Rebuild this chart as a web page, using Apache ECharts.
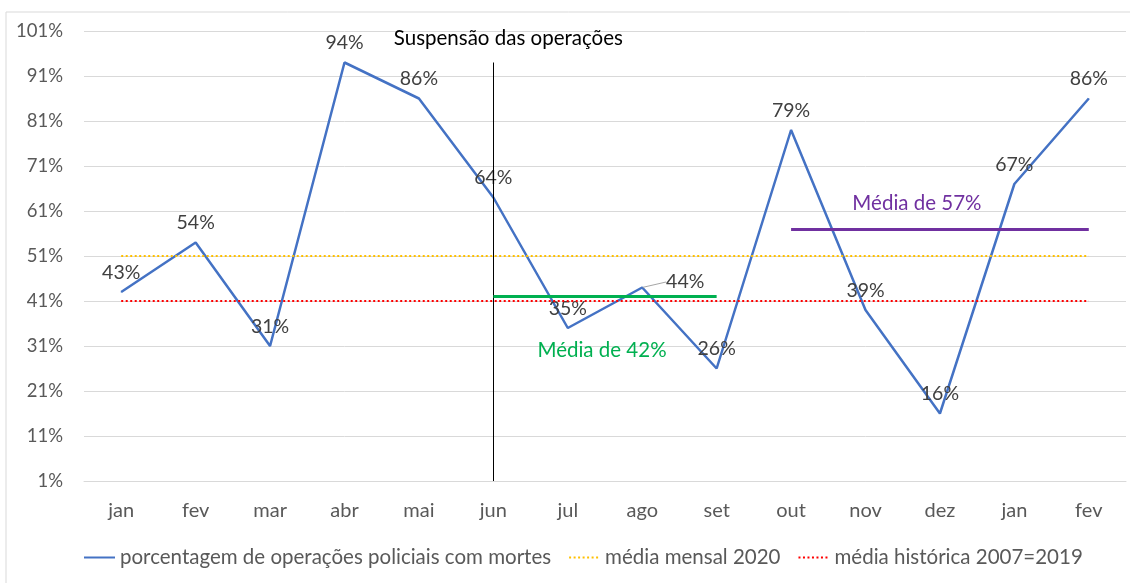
<!DOCTYPE html>
<html>
<head>
<meta charset="utf-8">
<script src="https://cdn.jsdelivr.net/npm/echarts@6/dist/echarts.min.js"></script>
<style>
  html, body { margin: 0; padding: 0; background: #fff; }
  #main { width: 1130px; height: 583px; }
</style>
</head>
<body>
<div id="main"></div>
<script>
  // meses
  var months = ['jan', 'fev', 'mar', 'abr', 'mai', 'jun', 'jul', 'ago', 'set', 'out', 'nov', 'dez', 'jan', 'fev']
  // porcentagem de operações policiais com mortes
  var pctMortes = [43, 54, 31, 94, 86, 64, 35, 44, 26, 79, 39, 16, 67, 86]
  var mediaMensal2020 = 51
  var mediaHistorica = 41
  var mediaAntes = 42   // jun a set
  var mediaDepois = 57  // out a fev
  var suspensaoIdx = 5  // jun
  var suspensaoTopo = 94

  var font = 'Lato, "Open Sans", sans-serif'
  var myChart = echarts.init(document.getElementById('main'))

  var option = {
    backgroundColor: '#fff',
    textStyle: { fontFamily: font },
    animation: false,
    graphic: [{
      type: 'rect',
      shape: { x: 6, y: 12, width: 1140, height: 600 },
      style: { fill: 'none', stroke: '#D9D9D9', lineWidth: 1 }
    }],
    grid: { left: 84, right: 4, top: 31, bottom: 102 },
    legend: {
      bottom: 10,
      left: 78,
      itemWidth: 31,
      itemHeight: 10,
      itemGap: 17,
      itemStyle: { opacity: 0 },
      textStyle: { fontSize: 20.5, color: '#595959', fontFamily: font },
      data: ['porcentagem de operações policiais com mortes', 'média mensal 2020', 'média histórica 2007=2019']
    },
    xAxis: {
      type: 'category',
      data: months,
      boundaryGap: true,
      axisLine: { lineStyle: { color: '#D9D9D9' } },
      axisTick: { show: false },
      axisLabel: { fontSize: 20, color: '#595959', margin: 20 }
    },
    yAxis: {
      type: 'value',
      min: 1,
      max: 101,
      interval: 10,
      axisLine: { show: false },
      axisTick: { show: false },
      axisLabel: { fontSize: 18.5, color: '#595959', margin: 21, formatter: '{value}%' },
      splitLine: { lineStyle: { color: '#D9D9D9' } }
    },
    series: [
      {
        name: 'porcentagem de operações policiais com mortes',
        type: 'line',
        z: 3,
        symbol: 'circle',
        symbolSize: 1,
        showSymbol: true,
        lineStyle: { color: '#4472C4', width: 2.5 },
        itemStyle: { color: '#4472C4' },
        data: pctMortes.map(function (v, i) {
          return i === 7 ? { value: v, labelLine: { show: true } } : v
        }),
        label: {
          show: true,
          position: 'top',
          distance: 9,
          fontSize: 19.5,
          color: '#404040',
          formatter: '{c}%'
        },
        labelLine: { show: false, lineStyle: { color: '#A6A6A6', width: 1 } },
        labelLayout: function (p) {
          if (p.dataIndex === 7) return { dx: 43, dy: 14 }
          return {}
        },
        markLine: {
          silent: true,
          symbol: 'none',
          data: [
            [
              { coord: [suspensaoIdx, 1], lineStyle: { color: '#000', width: 1, type: 'solid' } },
              {
                coord: [suspensaoIdx, suspensaoTopo],
                label: {
                  show: true, position: 'end', distance: 14, offset: [15, 0],
                  formatter: 'Suspensão das operações', fontSize: 20.5, color: '#000', fontFamily: font
                }
              }
            ],
            [
              { coord: [5, mediaAntes], lineStyle: { color: '#00B050', width: 3, type: 'solid' } },
              {
                coord: [8, mediaAntes],
                label: {
                  show: true, position: 'insideMiddleBottom', distance: 43, offset: [-3, 0],
                  formatter: 'Média de ' + mediaAntes + '%', fontSize: 20.5, color: '#00B050', fontFamily: font
                }
              }
            ],
            [
              { coord: [9, mediaDepois], lineStyle: { color: '#7030A0', width: 3, type: 'solid' } },
              {
                coord: [13, mediaDepois],
                label: {
                  show: true, position: 'insideMiddleTop', distance: 15, offset: [-23, 0],
                  formatter: 'Média de ' + mediaDepois + '%', fontSize: 20.5, color: '#7030A0', fontFamily: font
                }
              }
            ]
          ]
        }
      },
      {
        name: 'média mensal 2020',
        type: 'line',
        z: 2,
        symbol: 'none',
        data: [],
        lineStyle: { color: '#FFC000', width: 2, type: [2, 2.5] },
        itemStyle: { color: '#FFC000' },
        markLine: {
          silent: true,
          symbol: 'none',
          label: { show: false },
          lineStyle: { color: '#FFC000', width: 2, type: [2, 2.5] },
          data: [[{ coord: [0, mediaMensal2020] }, { coord: [13, mediaMensal2020] }]]
        }
      },
      {
        name: 'média histórica 2007=2019',
        type: 'line',
        z: 2,
        symbol: 'none',
        data: [],
        lineStyle: { color: '#FF0000', width: 2, type: [2, 2.5] },
        itemStyle: { color: '#FF0000' },
        markLine: {
          silent: true,
          symbol: 'none',
          label: { show: false },
          lineStyle: { color: '#FF0000', width: 2, type: [2, 2.5] },
          data: [[{ coord: [0, mediaHistorica] }, { coord: [13, mediaHistorica] }]]
        }
      }
    ]
  }

  myChart.setOption(option)
</script>
</body>
</html>
